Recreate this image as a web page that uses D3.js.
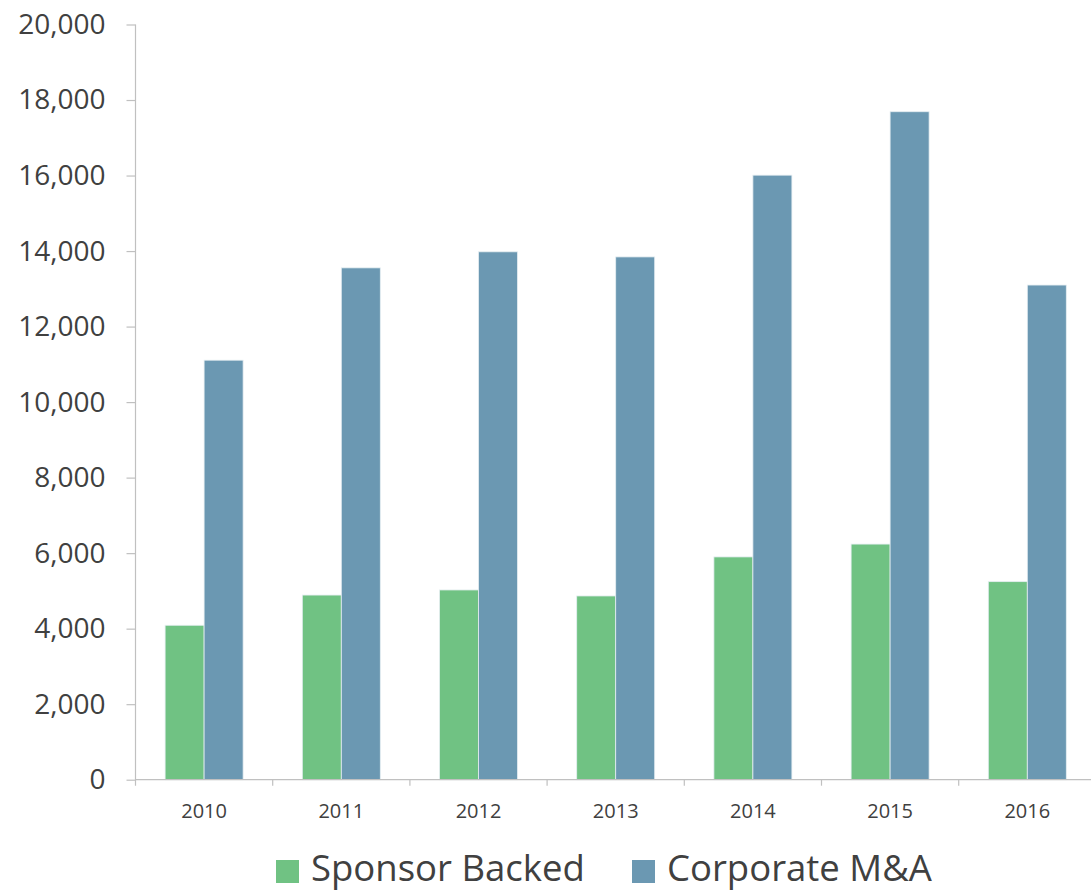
<!DOCTYPE html>
<html>
<head>
<meta charset="utf-8">
<script src="https://cdn.jsdelivr.net/npm/d3@7"></script>
<style>
  body { margin: 0; background: #fff; }
  svg, svg text { display: block; font-family: "Open Sans", "Noto Sans", sans-serif; }
  .y-axis text { font-size: 28px; fill: #404040; }
  .x-axis text { font-size: 20px; fill: #404040; }
  .legend text { font-size: 36.5px; fill: #404040; }
</style>
</head>
<body>
<svg width="1091" height="891"></svg>
<script>
var years = ["2010", "2011", "2012", "2013", "2014", "2015", "2016"];
var series = ["Sponsor Backed", "Corporate M&A"];
var sponsor_backed = [4090, 4890, 5025, 4866, 5900, 6240, 5245];
var corporate_ma = [11110, 13555, 13980, 13845, 16010, 17690, 13100];
var y_ticks = [0, 2000, 4000, 6000, 8000, 10000, 12000, 14000, 16000, 18000, 20000];
var colors = ["#70c283", "#6b98b2"];

var svg = d3.select("svg"),
    left = 135.5,
    band = 137.2,
    top_y = 24.5,
    base_y = 779.7;

var x0 = d3.scaleBand().domain(years).range([left, left + band * years.length]);
var x1 = d3.scaleBand().domain(series).range([29.6, 107.6]);
var y = d3.scaleLinear().domain([0, 20000]).range([base_y, top_y]);

var values = [sponsor_backed, corporate_ma];

// Bars
series.forEach(function(s, k) {
    svg.append("g")
        .selectAll("rect")
        .data(values[k])
        .enter().append("rect")
        .attr("x", function(d, i) { return x0(years[i]) + x1(s); })
        .attr("y", function(d) { return y(d); })
        .attr("width", x1.bandwidth())
        .attr("height", function(d) { return base_y - y(d); })
        .attr("fill", colors[k])
        .attr("stroke", "#e6eef2")
        .attr("stroke-width", 0.8);
});

// Y axis
var y_axis = svg.append("g")
    .attr("class", "y-axis")
    .attr("transform", "translate(" + left + ",0)")
    .call(d3.axisLeft(y).tickValues(y_ticks).tickFormat(d3.format(",")).tickSizeInner(9).tickSizeOuter(0).tickPadding(21));
y_axis.select(".domain").attr("stroke", "#c0c0c0").attr("stroke-width", 1.2)
    .attr("d", "M0," + top_y + "V" + (base_y + 6));
y_axis.selectAll(".tick line").attr("stroke", "#c0c0c0").attr("stroke-width", 1.2);

// X axis baseline and boundary ticks
svg.append("line")
    .attr("x1", left).attr("x2", left + band * years.length)
    .attr("y1", base_y).attr("y2", base_y)
    .attr("stroke", "#c0c0c0").attr("stroke-width", 1.2);

svg.append("g")
    .selectAll("line")
    .data(years.slice(1))
    .enter().append("line")
    .attr("x1", function(d) { return x0(d); })
    .attr("x2", function(d) { return x0(d); })
    .attr("y1", base_y)
    .attr("y2", base_y + 6)
    .attr("stroke", "#c0c0c0").attr("stroke-width", 1.2);

var x_axis = svg.append("g")
    .attr("class", "x-axis")
    .attr("transform", "translate(0," + base_y + ")")
    .call(d3.axisBottom(x0).tickSize(0).tickPadding(24));
x_axis.select(".domain").remove();

// Legend
var legend = svg.append("g").attr("class", "legend");
var legend_x = [276, 632];
series.forEach(function(s, k) {
    legend.append("rect")
        .attr("x", legend_x[k])
        .attr("y", 860)
        .attr("width", 23)
        .attr("height", 23)
        .attr("fill", colors[k]);
    legend.append("text")
        .attr("x", legend_x[k] + 35)
        .attr("y", 881)
        .text(s);
});
</script>
</body>
</html>
